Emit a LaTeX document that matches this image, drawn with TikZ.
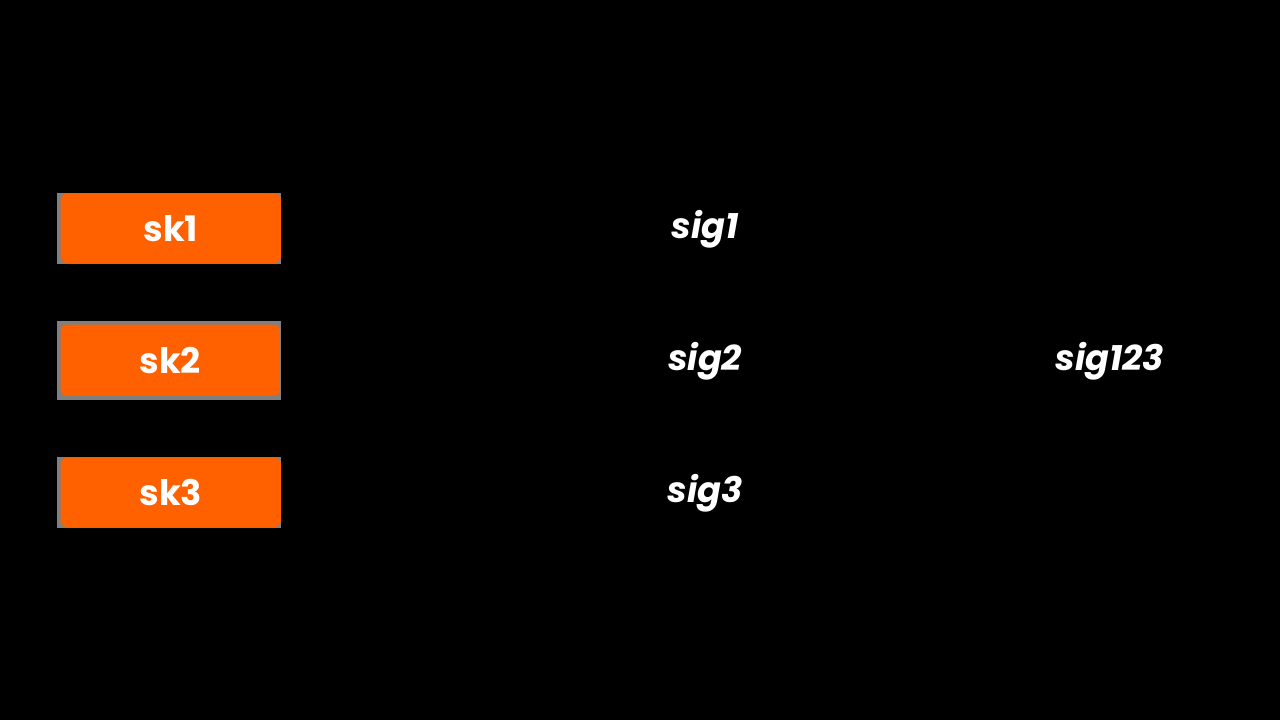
\documentclass[tikz,border=0pt]{standalone}
\usepackage{fontspec}
\setmainfont{Poppins}
\definecolor{keyorange}{HTML}{FF6000}
\definecolor{keygray}{HTML}{808080}
\tikzset{
  keyback/.style={fill=keygray, inner sep=0pt, anchor=north west},
  keybox/.style={fill=keyorange, rounded corners=1.5pt, inner sep=0pt, anchor=north west,
    text=white, font=\fontsize{10}{12}\selectfont\bfseries},
  sigtext/.style={text=white, font=\fontsize{10}{12}\selectfont\bfseries\itshape, inner sep=0pt}
}
\begin{document}
\begin{tikzpicture}[x=0.01cm, y=-0.01cm]
  \fill[black] (0,0) rectangle (1280,720);
  % secret keys
  \node[keyback, minimum width=2.24cm, minimum height=0.71cm] (sk1back) at (56,192) {};
  \node[keybox, minimum width=2.20cm, minimum height=0.69cm] (sk1) at (60,193) {sk1};
  \node[keyback, minimum width=2.24cm, minimum height=0.79cm] (sk2back) at (56,320) {};
  \node[keybox, minimum width=2.19cm, minimum height=0.71cm] (sk2) at (60,324) {sk2};
  \node[keyback, minimum width=2.24cm, minimum height=0.71cm] (sk3back) at (56,456) {};
  \node[keybox, minimum width=2.20cm, minimum height=0.69cm] (sk3) at (60,457) {sk3};
  % signatures
  \node[sigtext] (sig1) at (705,229) {sig1};
  \node[sigtext] (sig2) at (705,361) {sig2};
  \node[sigtext] (sig3) at (705,493) {sig3};
  \node[sigtext] (sig123) at (1110,361) {sig123};
\end{tikzpicture}
\end{document}
